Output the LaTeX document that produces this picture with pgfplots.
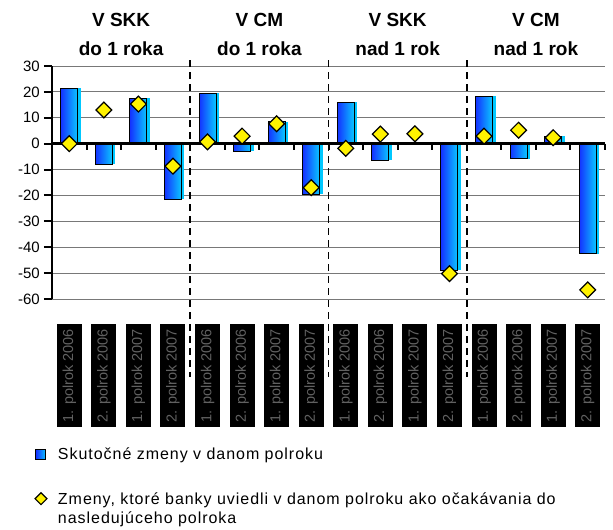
\documentclass[border=0pt]{standalone}
\usepackage{pgfplots}
\pgfplotsset{compat=1.18}
\usepackage{fontspec}
\setmainfont{Liberation Sans}
\definecolor{bardark}{RGB}{20,50,255}
\definecolor{barlight}{RGB}{10,200,255}
\definecolor{barshadow}{RGB}{0,200,255}
\definecolor{gridc}{RGB}{120,120,120}
\newcommand{\onebar}[2]{%
  \addplot[ybar, bar width=17pt, bar shift=3pt, fill=barshadow, draw=none, forget plot] coordinates {(#1,#2)};
  \addplot[ybar, bar width=17pt, bar shift=0pt, left color=bardark, right color=barlight, draw=black, line width=1pt, forget plot] coordinates {(#1,#2)};}
\begin{document}
\begin{tikzpicture}
\path[use as bounding box] (0pt,0pt) rectangle (613pt,-530pt);
\begin{axis}[
  at={(52pt,-66pt)}, anchor=north west,
  scale only axis, width=553pt, height=233pt,
  xmin=0.5, xmax=16.5, ymin=-60, ymax=30,
  clip=false,
  separate axis lines,
  axis y line*=left,
  axis x line*=bottom,
  x axis line style={draw=none},
  y axis line style={line width=2.5pt, black, -},
  ytick={-60,-50,...,30},
  ytick style={line width=2pt, black},
  major tick length=8pt,
  tick align=outside,
  ymajorgrids,
  grid style={gridc, line width=0.8pt},
  /pgf/number format/assume math mode=true,
  yticklabel style={font=\fontsize{15}{15}\selectfont, inner sep=1pt, xshift=-3pt},
  xtick={1,...,16},
  xtick style={draw=none},
  xticklabels={1. polrok 2006,2. polrok 2006,1. polrok 2007,2. polrok 2007,1. polrok 2006,2. polrok 2006,1. polrok 2007,2. polrok 2007,1. polrok 2006,2. polrok 2006,1. polrok 2007,2. polrok 2007,1. polrok 2006,2. polrok 2006,1. polrok 2007,2. polrok 2007},
  xticklabel style={rotate=90, anchor=east, fill=black, text=black!62, font=\fontsize{14.5}{14.5}\selectfont, inner xsep=5pt, inner ysep=0pt, minimum height=25pt},
  xticklabel shift=17pt,
  legend style={at={(-0.031,-0.63)}, anchor=north west, draw=none, fill=none,
    font=\fontsize{16}{19}\selectfont\addfontfeatures{LetterSpace=6}, row sep=26pt, inner sep=0pt,
    nodes={inner sep=2pt}},
  legend cell align=left,
]
% bars (with shadow)
\onebar{1}{21.5}\onebar{2}{-8}\onebar{3}{17.5}\onebar{4}{-21.5}
\onebar{5}{19.5}\onebar{6}{-3}\onebar{7}{8.5}\onebar{8}{-19.5}
\onebar{9}{16}\onebar{10}{-6.5}\onebar{11}{0.6}\onebar{12}{-48.8}
\onebar{13}{18.4}\onebar{14}{-5.8}\onebar{15}{2.8}\onebar{16}{-42.5}
\addlegendimage{legend image code/.code={\draw[left color=bardark, right color=barlight, draw=black, line width=1pt] (0pt,-5pt) rectangle (10pt,5pt); \path[draw=none,fill=none] (0pt,0pt) -- (20pt,0pt);}}
\addlegendentry{Skutočné zmeny v danom polroku}
% zero line and category ticks
\draw[line width=2.5pt] (axis cs:0.5,0) -- (axis cs:16.5,0);
\pgfplotsinvokeforeach{1.5,2.5,...,16.5}{\draw[line width=2pt] (axis cs:#1,0) -- ++(0pt,-6pt);}
% separators
\pgfplotsinvokeforeach{4.5,8.5,12.5}{\draw[line width=1.8pt, dash pattern=on 7pt off 5pt] (axis cs:#1,32.3) -- (axis cs:#1,-90);}
\addplot[only marks, mark=square*, mark size=5.6pt, mark options={rotate=45, fill=yellow, draw=black, line width=1.2pt},
  legend image code/.code={\draw[only marks, mark=square*, mark size=4.2pt, mark options={rotate=45, fill=yellow, draw=black, line width=1.2pt}] plot coordinates {(5pt,0pt)}; \path[draw=none,fill=none] (0pt,0pt) -- (20pt,0pt);}]
 coordinates {(1,0) (2,13) (3,15.3) (4,-8.7) (5,0.7) (6,2.9) (7,7.7) (8,-17)
 (9,-1.8) (10,3.7) (11,3.8) (12,-50.2) (13,2.9) (14,5.2) (15,2.3) (16,-56.5)};
\addlegendentry{\begin{tabular}[t]{@{}l@{}}Zmeny, ktoré banky uviedli v danom polroku ako očakávania do\\nasledujúceho polroka\end{tabular}}
% group titles
\foreach \xx/\la/\lb in {2.5/V SKK/do 1 roka, 6.5/V CM/do 1 roka, 10.5/V SKK/nad 1 rok, 14.5/V CM/nad 1 rok}{
  \edef\temp{\noexpand\node[anchor=base, font=\noexpand\bfseries\noexpand\fontsize{19}{19}\noexpand\selectfont, inner sep=0pt] at (axis cs:\xx,45.1) {\la};
  \noexpand\node[anchor=base, font=\noexpand\bfseries\noexpand\fontsize{19}{19}\noexpand\selectfont, inner sep=0pt] at (axis cs:\xx,34.25) {\lb};}
  \temp
}
\end{axis}
\end{tikzpicture}
\end{document}
